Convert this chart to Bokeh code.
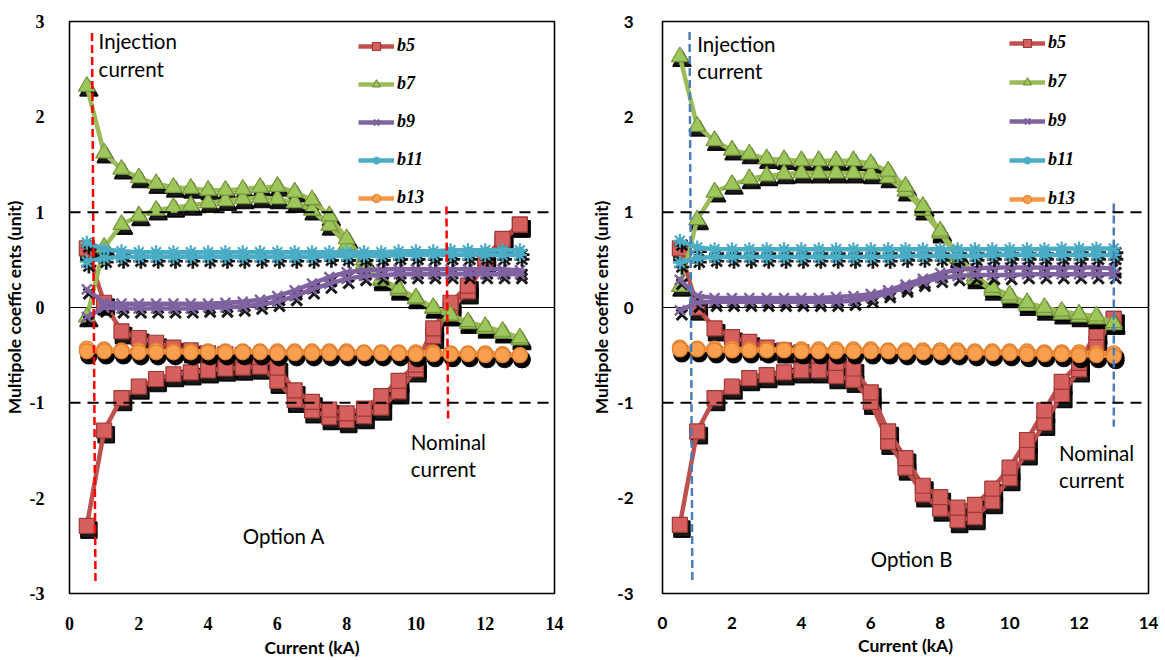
from bokeh.plotting import figure
from bokeh.models import Range1d, FixedTicker, Span, Legend, LegendItem
from bokeh.layouts import row
from bokeh.core.properties import value
from bokeh.transform import dodge
from bokeh.embed import file_html
from bokeh.resources import INLINE

# ---------------- data ----------------
current = [0.5, 1.0, 1.5, 2.0, 2.5, 3.0, 3.5, 4.0, 4.5, 5.0, 5.5, 6.0, 6.5,
           7.0, 7.5, 8.0, 8.5, 9.0, 9.5, 10.0, 10.5, 11.0, 11.5, 12.0, 12.5, 13.0]
x_ticks = [0, 2, 4, 6, 8, 10, 12, 14]
y_ticks = [-3, -2, -1, 0, 1, 2, 3]
series_names = ["b5", "b7", "b9", "b11", "b13"]

# Option A  (ramp-up branch, ramp-down branch; both listed in increasing current)
a_b5_up = [-2.29, -1.29, -0.95, -0.83, -0.75, -0.70, -0.68, -0.66, -0.64, -0.63, -0.62, -0.77, -0.97,
           -1.08, -1.15, -1.18, -1.14, -1.05, -0.88, -0.65, -0.30, -0.02, 0.17, 0.48, 0.70, 0.87]
a_b5_down = [0.62, 0.05, -0.25, -0.32, -0.37, -0.42, -0.45, -0.48, -0.49, -0.50, -0.52, -0.63, -0.87,
             -0.99, -1.07, -1.11, -1.06, -0.93, -0.77, -0.60, -0.22, 0.05, 0.23, 0.52, 0.72, 0.87]
a_b7_up = [-0.10, 0.63, 0.87, 0.96, 1.02, 1.05, 1.07, 1.10, 1.12, 1.14, 1.15, 1.14, 1.10,
           1.02, 0.86, 0.66, 0.46, 0.28, 0.18, 0.09, -0.01, -0.09, -0.17, -0.22, -0.27, -0.34]
a_b7_down = [2.32, 1.62, 1.45, 1.36, 1.30, 1.26, 1.25, 1.23, 1.23, 1.24, 1.26, 1.27, 1.21,
             1.13, 0.96, 0.72, 0.50, 0.30, 0.20, 0.10, 0.00, -0.08, -0.15, -0.20, -0.25, -0.32]
a_b9_up = [-0.10, 0.00, -0.01, -0.01, -0.01, -0.01, -0.01, 0.00, 0.00, 0.01, 0.03, 0.06, 0.12,
           0.19, 0.25, 0.30, 0.33, 0.34, 0.35, 0.35, 0.35, 0.35, 0.35, 0.35, 0.35, 0.35]
a_b9_down = [0.19, 0.05, 0.04, 0.04, 0.04, 0.04, 0.04, 0.04, 0.05, 0.06, 0.08, 0.12, 0.18,
             0.25, 0.32, 0.37, 0.39, 0.40, 0.40, 0.40, 0.40, 0.40, 0.40, 0.40, 0.40, 0.39]
a_b11_up = [0.48, 0.52, 0.53, 0.53, 0.53, 0.53, 0.53, 0.53, 0.53, 0.53, 0.53, 0.53, 0.53,
            0.53, 0.54, 0.54, 0.54, 0.54, 0.55, 0.55, 0.55, 0.55, 0.55, 0.55, 0.55, 0.55]
a_b11_down = [0.68, 0.61, 0.59, 0.58, 0.58, 0.58, 0.58, 0.58, 0.58, 0.58, 0.58, 0.58, 0.58,
              0.58, 0.58, 0.58, 0.58, 0.58, 0.59, 0.59, 0.59, 0.60, 0.60, 0.60, 0.60, 0.60]
a_b13_up = [-0.43, -0.44, -0.45, -0.45, -0.45, -0.46, -0.46, -0.46, -0.46, -0.46, -0.46, -0.46, -0.46,
            -0.46, -0.46, -0.46, -0.47, -0.47, -0.47, -0.47, -0.47, -0.48, -0.48, -0.48, -0.49, -0.50]
a_b13_down = [-0.46, -0.46, -0.46, -0.47, -0.47, -0.47, -0.47, -0.47, -0.47, -0.47, -0.47, -0.48, -0.48,
              -0.48, -0.48, -0.48, -0.48, -0.48, -0.48, -0.49, -0.49, -0.49, -0.49, -0.50, -0.50, -0.50]

# Option B
b_b5_up = [-2.28, -1.30, -0.95, -0.83, -0.74, -0.71, -0.68, -0.66, -0.66, -0.72, -0.76, -0.99, -1.41,
           -1.68, -1.96, -2.11, -2.23, -2.20, -2.03, -1.79, -1.52, -1.21, -0.92, -0.65, -0.38, -0.12]
b_b5_down = [0.62, 0.00, -0.22, -0.31, -0.36, -0.42, -0.45, -0.47, -0.50, -0.58, -0.64, -0.89, -1.30,
             -1.58, -1.87, -1.99, -2.10, -2.07, -1.90, -1.68, -1.39, -1.08, -0.78, -0.58, -0.26, -0.12]
b_b7_up = [0.22, 0.92, 1.21, 1.29, 1.35, 1.38, 1.40, 1.41, 1.41, 1.41, 1.41, 1.40, 1.36,
           1.22, 1.02, 0.78, 0.52, 0.30, 0.18, 0.10, 0.02, -0.03, -0.07, -0.10, -0.12, -0.18]
b_b7_down = [2.63, 1.90, 1.75, 1.65, 1.61, 1.56, 1.55, 1.54, 1.54, 1.54, 1.54, 1.51, 1.43,
             1.27, 1.06, 0.80, 0.56, 0.33, 0.21, 0.13, 0.05, 0.00, -0.04, -0.07, -0.09, -0.16]
b_b9_up = [-0.03, 0.05, 0.06, 0.06, 0.06, 0.06, 0.06, 0.06, 0.06, 0.06, 0.07, 0.10, 0.15,
           0.21, 0.27, 0.31, 0.33, 0.34, 0.34, 0.34, 0.35, 0.35, 0.35, 0.35, 0.35, 0.35]
b_b9_down = [0.29, 0.12, 0.10, 0.10, 0.10, 0.10, 0.10, 0.10, 0.10, 0.11, 0.12, 0.14, 0.18,
             0.24, 0.30, 0.36, 0.40, 0.41, 0.42, 0.42, 0.42, 0.42, 0.42, 0.42, 0.42, 0.41]
b_b11_up = [0.47, 0.52, 0.53, 0.53, 0.53, 0.53, 0.53, 0.53, 0.53, 0.53, 0.53, 0.53, 0.53,
            0.54, 0.54, 0.54, 0.54, 0.54, 0.55, 0.55, 0.55, 0.55, 0.55, 0.55, 0.55, 0.55]
b_b11_down = [0.70, 0.63, 0.61, 0.61, 0.61, 0.61, 0.61, 0.61, 0.61, 0.61, 0.61, 0.61, 0.61,
              0.61, 0.61, 0.61, 0.61, 0.61, 0.61, 0.61, 0.61, 0.61, 0.62, 0.62, 0.62, 0.62]
b_b13_up = [-0.42, -0.43, -0.43, -0.43, -0.44, -0.44, -0.44, -0.44, -0.44, -0.44, -0.44, -0.44, -0.45,
            -0.45, -0.45, -0.45, -0.45, -0.46, -0.46, -0.46, -0.46, -0.47, -0.47, -0.47, -0.48, -0.48]
b_b13_down = [-0.44, -0.44, -0.45, -0.45, -0.45, -0.45, -0.45, -0.46, -0.46, -0.46, -0.46, -0.46, -0.46,
              -0.47, -0.47, -0.47, -0.47, -0.48, -0.48, -0.48, -0.49, -0.49, -0.49, -0.50, -0.50, -0.51]

option_a = {"b5": (a_b5_up, a_b5_down), "b7": (a_b7_up, a_b7_down), "b9": (a_b9_up, a_b9_down),
            "b11": (a_b11_up, a_b11_down), "b13": (a_b13_up, a_b13_down)}
option_b = {"b5": (b_b5_up, b_b5_down), "b7": (b_b7_up, b_b7_down), "b9": (b_b9_up, b_b9_down),
            "b11": (b_b11_up, b_b11_down), "b13": (b_b13_up, b_b13_down)}

# annotation lines: (x_top, y_top, x_bottom, y_bottom)
a_injection_line = (0.65, 2.88, 0.75, -2.90)
a_nominal_line = (10.88, 1.06, 10.93, -1.21)
b_injection_line = (0.78, 2.89, 0.86, -2.88)
b_nominal_line = (13.0, 1.09, 13.0, -1.25)

# ---------------- styles ----------------
STYLE = {
    "b5": dict(marker="square", size=15, color="#C0504D", fill="#D6605D", edge="#9B3A37", lw=1.2),
    "b7": dict(marker="triangle", size=17, color="#9BBB59", fill="#9DC65B", edge="#76953D", lw=1.2),
    "b9": dict(marker="x", size=14, color="#7F63A1", fill="#7F63A1", edge="#7F63A1", lw=2.5),
    "b11": dict(marker="asterisk", size=14, color="#4BACC6", fill="#4BACC6", edge="#4BACC6", lw=2.2),
    "b13": dict(marker="circle", size=15, color="#F79646", fill="#F8A04F", edge="#E07E2E", lw=1.2),
}


def make_plot(data, option_label, label_pos, inj_line, nom_line, line_color, inj_pos, nom_pos,
              width, height, borders, tick_font, tick_size, ylab_standoff, legend_loc, legend_spacing,
              label_standoff_y, xlab_standoff, text_lh):
    bl, br, bt, bb = borders
    p = figure(width=width, height=height, x_range=Range1d(0, 14), y_range=Range1d(-3, 3),
               output_backend="svg", toolbar_location=None,
               min_border_left=bl, min_border_right=br, min_border_top=bt, min_border_bottom=bb)
    p.background_fill_color = "white"
    p.border_fill_color = "white"
    p.grid.visible = False
    p.outline_line_color = "black"
    p.outline_line_width = 1.6

    for ax, ticks in ((p.xaxis, x_ticks), (p.yaxis, y_ticks)):
        ax.ticker = FixedTicker(ticks=ticks)
        ax.major_label_overrides = {t: str(t) for t in ticks}
        ax.axis_line_color = None
        ax.major_tick_line_color = None
        ax.minor_tick_line_color = None
        ax.major_label_text_font = tick_font
        ax.major_label_text_font_style = "bold"
        ax.major_label_text_font_size = tick_size
        ax.major_label_text_color = "black"
        ax.axis_label_text_font = "Lato"
        ax.axis_label_text_font_style = "bold"
        ax.axis_label_text_color = "black"
    p.xaxis.axis_label = "Current (kA)"
    p.yaxis.axis_label = "Multipole coeffic ents (unit)"
    p.xaxis.axis_label_text_font_size = "17.5px"
    p.yaxis.axis_label_text_font_size = "17.5px"
    p.yaxis.major_label_standoff = label_standoff_y
    p.xaxis.major_label_standoff = 17
    p.yaxis.axis_label_standoff = ylab_standoff
    p.xaxis.axis_label_standoff = xlab_standoff

    p.add_layout(Span(location=0, dimension="width", line_color="black", line_width=1.2, level="underlay"))

    items = []
    for name in series_names:
        st = STYLE[name]
        up, down = data[name]
        xs = current + current[::-1]
        ys = up + down[::-1]
        src = dict(x=xs, y=ys)
        # drop shadow of the markers (screen offset ~2px right, ~4px down)
        p.scatter(x=dodge("x", 0.06, range=p.x_range), y=dodge("y", -0.045, range=p.y_range),
                  source=src, marker=st["marker"], size=st["size"] + 1, fill_color="black",
                  line_color="black", line_width=st["lw"] + 0.5, alpha=0.9)
        lr = p.line(xs, ys, line_color=st["color"], line_width=4.5, line_join="round")
        sr = p.scatter(xs, ys, marker=st["marker"], size=st["size"], fill_color=st["fill"],
                       line_color=st["edge"], line_width=st["lw"])
        items.append(LegendItem(label=name, renderers=[lr, sr]))

    for yv in (1, -1):
        p.add_layout(Span(location=yv, dimension="width", line_color="black", line_width=2,
                          line_dash="11 7"))

    for (x0, y0, x1, y1) in (inj_line, nom_line):
        p.segment(x0=[x0], y0=[y0], x1=[x1], y1=[y1], line_color=line_color, line_width=2.5,
                  line_dash="8 4")

    p.text(x=[inj_pos[0], nom_pos[0]], y=[inj_pos[1], nom_pos[1]],
           text=["Injection\ncurrent", "Nominal\ncurrent"], text_font=value("Lato"),
           text_font_size="20.5px", text_color="black", text_baseline="top", text_align="left",
           text_line_height=text_lh)
    p.text(x=[label_pos[0]], y=[label_pos[1]], text=[option_label], text_font=value("Lato"),
           text_font_size="20.5px", text_color="black", text_baseline="top", text_align="left")

    legend = Legend(items=items, location=legend_loc, glyph_width=36, glyph_height=20,
                    label_height=20, spacing=legend_spacing, padding=0, margin=0,
                    border_line_color=None, background_fill_alpha=0, label_standoff=3,
                    label_text_font="Liberation Serif", label_text_font_style="bold italic",
                    label_text_font_size="18px", label_text_color="black")
    p.add_layout(legend)
    return p


left = make_plot(option_a, "Option A", (5.0, -2.27), a_injection_line, a_nominal_line, "#FF0000",
                 (0.84, 2.92), (9.85, -1.28), 585, 660, (68, 31, 15, 64), "Liberation Serif", "18px",
                 2, (289, 385), 17, 19, 4, 1.15)
right = make_plot(option_b, "Option B", (6.0, -2.51), b_injection_line, b_nominal_line, "#4A7EBB",
                  (1.0, 2.89), (11.42, -1.40), 580, 660, (77, 17, 21, 61), "Lato", "17px",
                  2, (347, 384), 18, 23, 3, 1.12)

layout = row(left, right)
open("out.html", "w").write(file_html(layout, INLINE))
